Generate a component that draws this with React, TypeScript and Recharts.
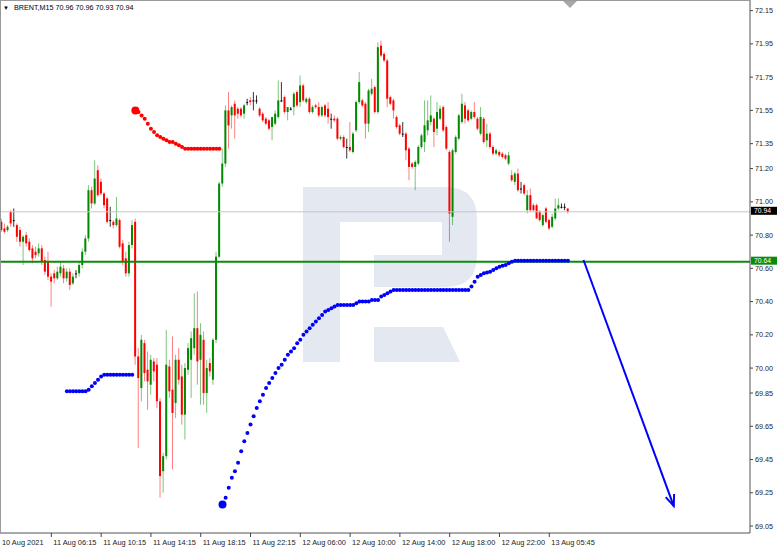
import React from "react";
import { Bar, ComposedChart, Line, ReferenceLine, XAxis, YAxis } from "recharts";

// BRENT M15 candles, one per 15 minutes
const opens = [
  70.88, 70.84, 70.83, 70.94, 70.89, 70.86, 70.83, 70.76, 70.80, 70.76,
  70.72, 70.70, 70.69, 70.72, 70.65, 70.64, 70.55, 70.57, 70.54, 70.57,
  70.60, 70.54, 70.58, 70.51, 70.57, 70.57, 70.62, 70.70, 70.78, 71.07,
  70.99, 71.19, 71.12, 71.05, 71.02, 70.89, 70.88, 70.86, 70.89, 70.75,
  70.66, 70.57, 70.74, 70.88, 70.07, 69.88, 70.15, 69.99, 69.90, 70.04,
  70.02, 69.80, 69.38, 69.47, 70.01, 69.87, 69.79, 70.05, 69.95, 69.72,
  69.99, 70.05, 70.12, 70.24, 70.05, 70.17, 69.85, 70.03, 69.93, 70.17,
  70.67, 71.11, 71.23, 71.55, 71.52, 71.59, 71.56, 71.56, 71.53, 71.60,
  71.61, 71.61, 71.61, 71.56, 71.53, 71.50, 71.49, 71.45, 71.47, 71.51,
  71.61, 71.63, 71.54, 71.56, 71.57, 71.66, 71.60, 71.70, 71.60, 71.62,
  71.54, 71.58, 71.57, 71.52, 71.58, 71.56, 71.50, 71.50, 71.50, 71.38,
  71.39, 71.33, 71.33, 71.30, 71.43, 71.60, 71.61, 71.59, 71.47, 71.65,
  71.69, 71.54, 71.94, 71.89, 71.85, 71.63, 71.61, 71.51, 71.46, 71.41,
  71.41, 71.32, 71.23, 71.21, 71.23, 71.33, 71.36, 71.43, 71.48, 71.50,
  71.44, 71.50, 71.57, 71.45, 71.30, 70.91, 71.30, 71.38, 71.48, 71.58,
  71.55, 71.50, 71.54, 71.50, 71.41, 71.50, 71.37, 71.41, 71.33, 71.29,
  71.30, 71.29, 71.28, 71.23, 71.16, 71.12, 71.17, 71.08, 71.10, 70.95,
  71.04, 70.98, 70.98, 70.94, 70.86, 70.96, 70.89, 70.85, 70.90, 70.96,
  70.97, 70.97, 70.96,
];
const highs = [
  70.90, 70.87, 70.86, 70.95, 70.96, 70.87, 70.85, 70.80, 70.82, 70.78,
  70.74, 70.73, 70.75, 70.74, 70.67, 70.70, 70.57, 70.59, 70.61, 70.64,
  70.62, 70.60, 70.60, 70.57, 70.59, 70.64, 70.72, 70.80, 71.10, 71.09,
  71.25, 71.22, 71.14, 71.06, 71.03, 70.97, 70.89, 71.03, 70.90, 70.77,
  70.70, 70.76, 70.89, 70.90, 70.12, 70.20, 70.17, 70.10, 70.08, 70.06,
  70.06, 69.82, 69.49, 70.23, 70.05, 70.19, 70.08, 70.12, 70.02, 70.03,
  70.15, 70.22, 70.45, 70.46, 70.27, 70.22, 70.05, 70.06, 70.18, 70.70,
  71.12, 71.32, 71.58, 71.66, 71.58, 71.61, 71.57, 71.57, 71.59, 71.62,
  71.63, 71.66, 71.64, 71.57, 71.54, 71.51, 71.50, 71.51, 71.55, 71.73,
  71.72, 71.64, 71.57, 71.57, 71.66, 71.67, 71.76, 71.71, 71.63, 71.63,
  71.58, 71.59, 71.60, 71.58, 71.59, 71.60, 71.53, 71.52, 71.51, 71.40,
  71.40, 71.38, 71.48, 71.42, 71.61, 71.78, 71.62, 71.60, 71.68, 71.74,
  71.70, 71.96, 71.97, 71.90, 71.86, 71.64, 71.62, 71.52, 71.47, 71.48,
  71.42, 71.33, 71.24, 71.25, 71.34, 71.41, 71.61, 71.61, 71.64, 71.51,
  71.60, 71.58, 71.58, 71.46, 71.31, 71.32, 71.40, 71.53, 71.65, 71.60,
  71.56, 71.55, 71.60, 71.51, 71.57, 71.51, 71.47, 71.42, 71.34, 71.32,
  71.31, 71.30, 71.29, 71.30, 71.19, 71.18, 71.20, 71.12, 71.11, 71.07,
  71.08, 70.99, 70.99, 70.95, 70.93, 70.97, 70.90, 70.93, 71.02, 71.02,
  70.99, 70.99, 70.96,
];
const lows = [
  70.82, 70.81, 70.82, 70.85, 70.85, 70.76, 70.73, 70.62, 70.73, 70.70,
  70.63, 70.66, 70.67, 70.62, 70.56, 70.53, 70.37, 70.51, 70.53, 70.55,
  70.51, 70.52, 70.47, 70.50, 70.54, 70.55, 70.60, 70.68, 70.76, 70.96,
  70.98, 71.03, 71.04, 70.96, 70.87, 70.85, 70.84, 70.85, 70.72, 70.62,
  70.55, 70.55, 70.72, 70.02, 69.52, 69.80, 69.92, 69.75, 69.84, 69.92,
  69.76, 69.22, 69.25, 69.45, 69.82, 69.39, 69.70, 69.90, 69.66, 69.57,
  69.96, 69.82, 70.08, 69.90, 69.78, 69.78, 69.73, 69.95, 69.90, 70.15,
  70.66, 71.09, 71.21, 71.32, 71.44, 71.38, 71.50, 71.51, 71.50, 71.58,
  71.58, 71.55, 71.59, 71.51, 71.48, 71.46, 71.43, 71.37, 71.46, 71.50,
  71.60, 71.53, 71.49, 71.55, 71.52, 71.57, 71.57, 71.60, 71.59, 71.53,
  71.53, 71.56, 71.51, 71.51, 71.51, 71.47, 71.44, 71.48, 71.37, 71.37,
  71.32, 71.26, 71.30, 71.29, 71.42, 71.59, 71.57, 71.38, 71.42, 71.64,
  71.53, 71.53, 71.87, 71.84, 71.57, 71.58, 71.50, 71.44, 71.40, 71.39,
  71.25, 71.13, 71.20, 71.07, 71.22, 71.32, 71.30, 71.40, 71.46, 71.33,
  71.40, 71.49, 71.42, 71.31, 70.76, 70.86, 71.29, 71.37, 71.47, 71.47,
  71.48, 71.49, 71.50, 71.43, 71.40, 71.35, 71.33, 71.32, 71.28, 71.28,
  71.27, 71.26, 71.25, 71.22, 71.12, 71.10, 71.06, 71.05, 71.04, 70.93,
  70.94, 70.94, 70.90, 70.88, 70.85, 70.87, 70.83, 70.84, 70.89, 70.95,
  70.96, 70.95, 70.93,
];
const closes = [
  70.83, 70.82, 70.85, 70.87, 70.89, 70.79, 70.76, 70.79, 70.75, 70.71,
  70.66, 70.68, 70.72, 70.64, 70.58, 70.55, 70.52, 70.54, 70.58, 70.61,
  70.54, 70.58, 70.50, 70.55, 70.57, 70.62, 70.70, 70.78, 71.07, 70.99,
  71.14, 71.04, 71.05, 70.98, 70.88, 70.89, 70.86, 70.90, 70.73, 70.64,
  70.57, 70.74, 70.86, 70.07, 69.94, 70.17, 69.97, 69.92, 70.05, 69.98,
  69.80, 69.35, 69.47, 70.02, 69.86, 69.73, 70.05, 69.93, 69.72, 70.00,
  70.12, 70.18, 70.24, 70.04, 70.20, 69.85, 70.00, 69.98, 70.17, 70.67,
  71.11, 71.23, 71.55, 71.46, 71.57, 71.52, 71.53, 71.52, 71.58, 71.60,
  71.60, 71.61, 71.61, 71.52, 71.49, 71.47, 71.44, 71.51, 71.53, 71.61,
  71.61, 71.54, 71.57, 71.56, 71.65, 71.58, 71.70, 71.61, 71.62, 71.54,
  71.57, 71.57, 71.52, 71.57, 71.52, 71.51, 71.50, 71.49, 71.38, 71.39,
  71.33, 71.33, 71.31, 71.41, 71.60, 71.72, 71.58, 71.47, 71.67, 71.68,
  71.54, 71.93, 71.88, 71.85, 71.62, 71.59, 71.55, 71.45, 71.41, 71.41,
  71.31, 71.21, 71.21, 71.24, 71.33, 71.40, 71.46, 71.49, 71.52, 71.42,
  71.54, 71.56, 71.43, 71.32, 70.93, 71.31, 71.39, 71.52, 71.59, 71.50,
  71.49, 71.54, 71.51, 71.44, 71.51, 71.36, 71.41, 71.33, 71.29, 71.31,
  71.28, 71.27, 71.26, 71.28, 71.13, 71.17, 71.07, 71.08, 71.05, 71.04,
  70.95, 70.95, 70.90, 70.89, 70.92, 70.88, 70.84, 70.91, 70.96, 70.98,
  70.97, 70.97, 70.94,
];

// red dotted trail above price (starts on bar 43)
const redDotStart = 43;
const redDots = [
  71.55, 71.54, 71.52, 71.50, 71.47, 71.44, 71.42, 71.40, 71.39, 71.38,
  71.37, 71.36, 71.36, 71.35, 71.34, 71.33, 71.32, 71.32, 71.32, 71.32,
  71.32, 71.32, 71.32, 71.32, 71.32, 71.32, 71.32, 71.32,
];

// short blue dotted trail (bars 21..42)
const blueFlatStart = 21;
const blueFlat = [
  69.86, 69.86, 69.86, 69.86, 69.86, 69.86, 69.86, 69.87, 69.89, 69.91,
  69.93, 69.95, 69.96, 69.96, 69.96, 69.96, 69.96, 69.96, 69.96, 69.96,
  69.96, 69.96,
];

// long blue dotted curve (bars 71..182)
const blueCurveStart = 71;
const blueCurve = [
  69.18, 69.22, 69.28, 69.34, 69.38, 69.43, 69.50, 69.56, 69.61, 69.66,
  69.71, 69.76, 69.80, 69.84, 69.88, 69.91, 69.94, 69.97, 70.00, 70.02,
  70.05, 70.08, 70.10, 70.12, 70.15, 70.17, 70.20, 70.22, 70.24, 70.26,
  70.28, 70.30, 70.32, 70.34, 70.35, 70.36, 70.37, 70.38, 70.38, 70.38,
  70.38, 70.38, 70.38, 70.39, 70.40, 70.40, 70.40, 70.40, 70.41, 70.41,
  70.41, 70.43, 70.44, 70.45, 70.46, 70.47, 70.47, 70.47, 70.47, 70.47,
  70.47, 70.47, 70.47, 70.47, 70.47, 70.47, 70.47, 70.47, 70.47, 70.47,
  70.47, 70.47, 70.47, 70.47, 70.47, 70.47, 70.47, 70.47, 70.47, 70.47,
  70.49, 70.52, 70.55, 70.56, 70.57, 70.575, 70.58, 70.59, 70.60, 70.61,
  70.615, 70.62, 70.63, 70.64, 70.645, 70.645, 70.645, 70.645, 70.645, 70.645,
  70.645, 70.645, 70.645, 70.645, 70.645, 70.645, 70.645, 70.645, 70.645, 70.645,
  70.645, 70.645,
];

// forecast arrow (bar index, price)
const arrowStartBar = 187;
const arrowStartPrice = 70.65;
const arrowEndBar = 216;
const arrowEndPrice = 69.17;

const slotCount = 241;
const labelEvery = 16;
const timeLabels = [
  "10 Aug 2021", "11 Aug 06:15", "11 Aug 10:15", "11 Aug 14:15", "11 Aug 18:15",
  "11 Aug 22:15", "12 Aug 06:00", "12 Aug 10:00", "12 Aug 14:00", "12 Aug 18:00",
  "12 Aug 22:00", "13 Aug 05:45",
];
const priceTicks = [
  72.15, 71.95, 71.75, 71.55, 71.35, 71.2, 71.0, 70.8, 70.6, 70.4,
  70.2, 70.0, 69.85, 69.65, 69.45, 69.25, 69.05,
];
const lastPrice = 70.94;
const levelPrice = 70.64;
const priceMin = 69.008;
const priceMax = 72.214;

const BULL = "#008a00";
const BEAR = "#ff0000";
const DOJI = "#000000";
const BLUE = "#0000ff";
const LEVEL = "#0a8c0a";
const FONT = '"Liberation Sans", Arial, sans-serif';

const rows = Array.from({ length: slotCount }, (_, i) => {
  const row: any = { i };
  if (i < closes.length) {
    row.o = opens[i];
    row.h = highs[i];
    row.l = lows[i];
    row.c = closes[i];
    row.range = [lows[i], highs[i]];
  }
  const r = i - redDotStart;
  if (r >= 0 && r < redDots.length) row.red = redDots[r];
  const b = i - blueFlatStart;
  if (b >= 0 && b < blueFlat.length) row.blue = blueFlat[b];
  const bc = i - blueCurveStart;
  if (bc >= 0 && bc < blueCurve.length) row.blue = blueCurve[bc];
  if (i === arrowStartBar) row.arrow = arrowStartPrice;
  if (i === arrowEndBar) row.arrow = arrowEndPrice;
  return row;
});

function Candle(props: any) {
  const { x, y, width, height, payload } = props;
  if (!payload || payload.c == null || y == null || isNaN(y)) return <g />;
  const { o, h, l, c } = payload;
  const top = Math.min(y, y + height);
  const full = Math.abs(height);
  const k = h > l ? full / (h - l) : 0;
  const cx = x + width / 2;
  const yO = top + (h - o) * k;
  const yC = top + (h - c) * k;
  const color = c > o ? BULL : c < o ? BEAR : DOJI;
  const bodyTop = Math.min(yO, yC);
  const bodyH = Math.max(Math.abs(yO - yC), 1);
  return (
    <g>
      <line x1={cx} x2={cx} y1={top} y2={top + full} stroke={color} strokeOpacity={color === DOJI ? 0.8 : 0.5} strokeWidth={1} />
      <rect x={cx - 1} y={bodyTop} width={2} height={bodyH} fill={color} />
    </g>
  );
}

function dotRenderer(color: string, bigBars: number[], r: number) {
  return (props: any) => {
    const { cx, cy, index, value } = props;
    if (value == null || cx == null || cy == null || isNaN(cy)) return <g key={`e${index}`} />;
    const big = bigBars.includes(index);
    return <circle key={`d${index}`} cx={cx} cy={cy} r={big ? 4 : r} fill={color} />;
  };
}

function ArrowHead(props: any) {
  const { cx, cy, index, points } = props;
  if (index !== arrowEndBar || cx == null || cy == null) return <g key={`a${index}`} />;
  const from = points && points[arrowStartBar];
  const dx = from ? cx - from.x : 90;
  const dy = from ? cy - from.y : 245;
  const ang = Math.atan2(dy, dx);
  const len = 12;
  const spread = 0.38;
  const p1 = [cx - len * Math.cos(ang - spread), cy - len * Math.sin(ang - spread)];
  const p2 = [cx - len * Math.cos(ang + spread), cy - len * Math.sin(ang + spread)];
  return (
    <path
      key={`a${index}`}
      d={`M${p1[0]},${p1[1]} L${cx},${cy} L${p2[0]},${p2[1]}`}
      stroke={BLUE}
      strokeWidth={2}
      fill="none"
    />
  );
}

function TimeTick(props: any) {
  const { x, y, payload } = props;
  const v = payload.value as number;
  if (v % labelEvery !== 0 || v / labelEvery >= timeLabels.length) return <g />;
  const first = v === 0;
  return (
    <g>
      {!first && <line x1={x} x2={x} y1={y} y2={y + 4} stroke="#444" />}
      <text x={first ? 2 : x + 2} y={y + 12} fontSize={7.4} fill="#222" fontFamily={FONT}>
        {timeLabels[v / labelEvery]}
      </text>
    </g>
  );
}

function PriceTick(props: any) {
  const { x, y, payload } = props;
  return (
    <g>
      <line x1={x} x2={x + 3} y1={y} y2={y} stroke="#444" />
      <text x={x + 5} y={y} dy="0.35em" fontSize={7.2} fill="#222" fontFamily={FONT}>
        {Number(payload.value).toFixed(2)}
      </text>
    </g>
  );
}

function priceTag(value: number, fill: string) {
  return (props: any) => {
    const vb = props.viewBox || {};
    const x = (vb.x ?? 0) + (vb.width ?? 0) + 1;
    const y = vb.y ?? 0;
    return (
      <g>
        <rect x={x} y={y - 5} width={26} height={8} fill={fill} />
        <text x={x + 3} y={y - 1} dy="0.33em" fontSize={6.8} fill="#fff" fontFamily={FONT}>
          {value.toFixed(2)}
        </text>
      </g>
    );
  };
}

function Logo() {
  return (
    <svg width={782} height={550} style={{ position: "absolute", left: 0, top: 0 }}>
      <g fill="#e3e8f1">
        <path d="M303,187 H445 Q477,187 477,219 V255 Q477,287 445,287 H374 V255 H442 V222 H340 V362 H303 Z" />
        <path d="M374,327 H443 L460,362 H374 Z" />
      </g>
    </svg>
  );
}

function Frame() {
  const last = closes.length - 1;
  return (
    <svg width={782} height={550} style={{ position: "absolute", left: 0, top: 0, pointerEvents: "none" }}>
      <line x1={0.5} x2={0.5} y1={0} y2={533} stroke="#9a9a9a" />
      <line x1={0} x2={750} y1={0.5} y2={0.5} stroke="#9a9a9a" />
      <polygon points="563,1 577,1 570,8" fill="#a8a8a8" />
      <text x={3} y={10} fontSize={6} fill="#000" fontFamily={FONT}>▼</text>
      <text x={14} y={10} fontSize={7.2} fill="#000" fontFamily={FONT}>
        {`BRENT,M15  ${opens[last].toFixed(2)} ${highs[last].toFixed(2)} ${lows[last].toFixed(2)} ${closes[last].toFixed(2)}`}
      </text>
    </svg>
  );
}

export default function App() {
  return (
    <div style={{ position: "absolute", left: 0, top: 0, width: 782, height: 550, background: "#fff" }}>
      <Logo />
      <div style={{ position: "absolute", left: 0, top: 0 }}>
        <ComposedChart
          width={782}
          height={550}
          data={rows}
          margin={{ top: 0, right: 0, bottom: 0, left: 0 }}
          barCategoryGap="10%"
        >
          <XAxis
            dataKey="i"
            type="category"
            height={17}
            interval={0}
            tickSize={0}
            tickMargin={0}
            tickLine={false}
            axisLine={{ stroke: "#555" }}
            tick={<TimeTick />}
          />
          <YAxis
            orientation="right"
            type="number"
            width={32}
            domain={[priceMin, priceMax]}
            allowDataOverflow
            ticks={priceTicks}
            interval={0}
            tickSize={0}
            tickMargin={0}
            tickLine={false}
            axisLine={{ stroke: "#555" }}
            tick={<PriceTick />}
          />
          <ReferenceLine y={lastPrice} stroke="#c6c6c6" strokeWidth={1} label={priceTag(lastPrice, "#000")} />
          <ReferenceLine y={levelPrice} stroke={LEVEL} strokeWidth={2} label={priceTag(levelPrice, LEVEL)} />
          <Bar dataKey="range" shape={<Candle />} isAnimationActive={false} />
          <Line
            dataKey="red"
            stroke="none"
            dot={dotRenderer(BEAR, [redDotStart], 2)}
            activeDot={false}
            isAnimationActive={false}
          />
          <Line
            dataKey="blue"
            stroke="none"
            dot={dotRenderer(BLUE, [blueCurveStart], 2)}
            activeDot={false}
            isAnimationActive={false}
          />
          <Line
            dataKey="arrow"
            stroke={BLUE}
            strokeWidth={2}
            connectNulls
            dot={<ArrowHead />}
            activeDot={false}
            isAnimationActive={false}
          />
        </ComposedChart>
      </div>
      <Frame />
    </div>
  );
}
